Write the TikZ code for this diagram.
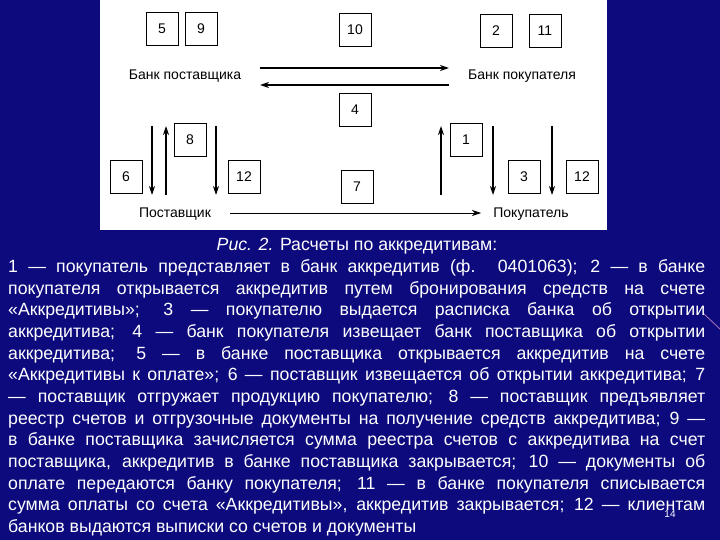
\documentclass[tikz,border=0pt]{standalone}
\usepackage{fontspec}
\setmainfont{Liberation Sans}
\usetikzlibrary{arrows.meta}
\definecolor{bgblue}{RGB}{12,10,125}
\begin{document}
\begin{tikzpicture}[x=1pt,y=-1pt,
  nb/.style={draw=black,line width=0.9pt,minimum width=32pt,minimum height=33pt,inner sep=0pt,font=\fontsize{14}{14}\selectfont},
  lbl/.style={font=\fontsize{14}{14}\selectfont,inner sep=0pt},
  arr/.style={line width=1.3pt,-{Stealth[length=9pt,width=6pt]}},
  tl/.style={anchor=base west,inner sep=0pt,text=white,font=\fontsize{17.7}{18}\selectfont}]
\fill[bgblue] (0,0) rectangle (720,540);
\useasboundingbox (0,0) rectangle (720,540);
\fill[white] (100,0) rectangle (607,230);
% boxes
\node[nb] (b5) at (162,29) {5};
\node[nb] (b9) at (201,29) {9};
\node[nb] (b10) at (355,30) {10};
\node[nb] (b2) at (496,31) {2};
\node[nb] (b11) at (545,31) {11};
\node[nb] (b4) at (355,110) {4};
\node[nb] (b8) at (190,140) {8};
\node[nb] (b6) at (126,177) {6};
\node[nb] (b12a) at (244,177) {12};
\node[nb] (b7) at (357,187) {7};
\node[nb] (b1) at (466,140) {1};
\node[nb] (b3) at (524,177) {3};
\node[nb] (b12b) at (582,177) {12};
% labels
\node[lbl] (bs) at (185,76) {Банк поставщика};
\node[lbl] (bp) at (522,76) {Банк покупателя};
\node[lbl] (ps) at (175,214) {Поставщик};
\node[lbl] (pk) at (531,214) {Покупатель};
% horizontal arrows
\coordinate (h1a) at (260,68); \coordinate (h1b) at (449,68);
\coordinate (h2a) at (449,85); \coordinate (h2b) at (260,85);
\draw[arr] (h1a) -- (h1b);
\draw[arr] (h2a) -- (h2b);
\coordinate (h3a) at (230,213); \coordinate (h3b) at (481,213);
\draw[line width=0.7pt,-{Stealth[length=9pt,width=6pt]}] (h3a) -- (h3b);
% vertical arrows
\foreach \x/\d in {152/1,166/0,216/1,441/0,493/1,552/1}{
  \ifnum\d=1 \draw[arr] (\x,126) -- (\x,195); \else \draw[arr] (\x,195) -- (\x,126); \fi}
% decorative line
\draw[color=violet!50!white,line width=0.7pt] (704,314) -- (720,329);
% text
\node[anchor=base,inner sep=0pt,text=white,font=\fontsize{17.7}{18}\selectfont] (cap) at (357,250) {\textit{Рис. 2.} Расчеты по аккредитивам:};
\foreach \y/\t in {
 272/{1 — покупатель представляет в банк аккредитив (ф. 0401063); 2 — в банке},
 294/{покупателя открывается аккредитив путем бронирования средств на счете},
 315/{«Аккредитивы»; 3 — покупателю выдается расписка банка об открытии},
 337/{аккредитива; 4 — банк покупателя извещает банк поставщика об открытии},
 359/{аккредитива; 5 — в банке поставщика открывается аккредитив на счете},
 380/{«Аккредитивы к оплате»; 6 — поставщик извещается об открытии аккредитива; 7},
 402/{— поставщик отгружает продукцию покупателю; 8 — поставщик предъявляет},
 424/{реестр счетов и отгрузочные документы на получение средств аккредитива; 9 —},
 445/{в банке поставщика зачисляется сумма реестра счетов с аккредитива на счет},
 467/{поставщика, аккредитив в банке поставщика закрывается; 10 — документы об},
 489/{оплате передаются банку покупателя; 11 — в банке покупателя списывается},
 510/{сумма оплаты со счета «Аккредитивы», аккредитив закрывается; 12 — клиентам}}
 {\node[tl] at (8,\y) {\makebox[697pt][s]{\t}};}
\node[tl] (last) at (8,532) {банков выдаются выписки со счетов и документы};
\node[inner sep=0pt,text=white,font=\fontsize{10}{10}\selectfont] (pg) at (670,514) {14};
\end{tikzpicture}
\end{document}
